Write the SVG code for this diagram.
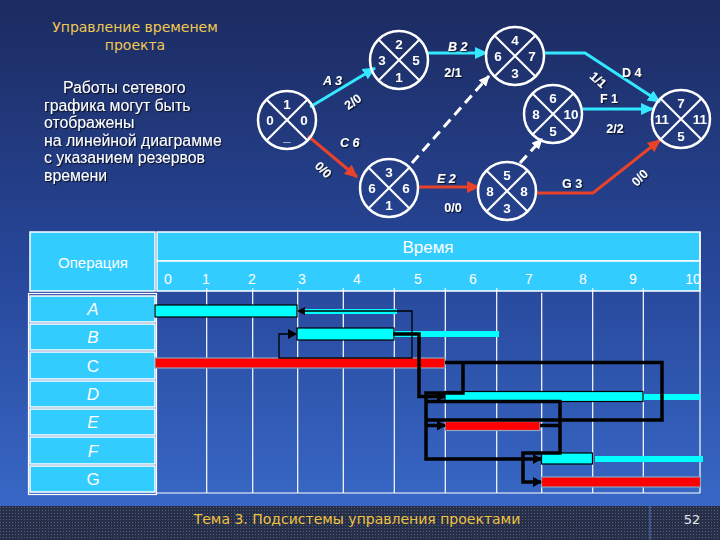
<svg xmlns="http://www.w3.org/2000/svg" width="720" height="540" viewBox="0 0 720 540">
<defs>
<linearGradient id="bg" x1="0" y1="0" x2="0" y2="1">
<stop offset="0" stop-color="#1c2b60"/>
<stop offset="0.5" stop-color="#27479a"/>
<stop offset="1" stop-color="#3a6ccc"/>
</linearGradient>
<pattern id="dots" width="3" height="3" patternUnits="userSpaceOnUse">
<rect width="3" height="3" fill="#262f47"/>
<rect width="1" height="1" fill="#55617e"/>
</pattern>
<filter id="sh" x="-10%" y="-10%" width="130%" height="140%">
<feDropShadow dx="1.2" dy="1.2" stdDeviation="0.3" flood-color="#000" flood-opacity="0.7"/>
</filter>
<marker id="mCyan" markerUnits="userSpaceOnUse" markerWidth="14" markerHeight="12" refX="12" refY="6" orient="auto">
<path d="M0,0 L13,6 L0,12 Z" fill="#33e8ff"/>
</marker>
<marker id="mRed" markerUnits="userSpaceOnUse" markerWidth="14" markerHeight="12" refX="12" refY="6" orient="auto">
<path d="M0,0 L13,6 L0,12 Z" fill="#e8432a"/>
</marker>
<marker id="mWhite" markerUnits="userSpaceOnUse" markerWidth="12" markerHeight="10" refX="10" refY="5" orient="auto">
<path d="M0,0 L11,5 L0,10 Z" fill="#ffffff"/>
</marker>
<marker id="mBlack" markerUnits="userSpaceOnUse" markerWidth="10" markerHeight="10" refX="8" refY="5" orient="auto">
<path d="M0,0 L9,5 L0,10 Z" fill="#000"/>
</marker>
<style>
.node circle{fill:none;stroke:#fff;stroke-width:2.5}
.node line{stroke:#fff;stroke-width:2.2}
.node text{font-family:"Liberation Sans",Arial,sans-serif;font-weight:bold;font-size:13.5px;fill:#fff;text-anchor:middle}
.lbl{font-family:"Liberation Sans",Arial,sans-serif;font-weight:bold;font-size:12.5px;fill:#fff;filter:url(#sh)}
.it{font-style:italic}
.cy{stroke:#33e8ff;stroke-width:3;fill:none}
.rd{stroke:#e8432a;stroke-width:3;fill:none}
.dash{stroke:#fff;stroke-width:3;fill:none;stroke-dasharray:10 6}
.hdr{fill:#33ccff;stroke:#fff;stroke-width:1.5}
.htx{font-family:"Liberation Sans",Arial,sans-serif;fill:#fff;text-anchor:middle}
.grid{stroke:#fff;stroke-width:1.2}
.bc{fill:#00ffff;stroke:#000;stroke-width:1.2}
.br{fill:#ff0000;stroke:#8aa6c0;stroke-width:1.2}
.sl{fill:#00ffff}
.tk{stroke:#000;stroke-width:3.5;fill:none}
.tn{stroke:#000;stroke-width:1.3;fill:none}
.body{font-family:"Liberation Sans",Arial,sans-serif;font-size:15.8px;fill:#fff;filter:url(#sh)}
</style>
</defs>

<rect width="720" height="540" fill="url(#bg)"/>
<rect x="0" y="506" width="720" height="34" fill="url(#dots)"/>
<line x1="650" y1="506" x2="650" y2="540" stroke="#4f7ac8" stroke-width="1"/>

<g id="title">
<text x="135" y="32" font-family="DejaVu Sans,sans-serif" font-size="14" fill="#f0c850" text-anchor="middle">Управление временем</text>
<text x="135" y="50" font-family="DejaVu Sans,sans-serif" font-size="14" fill="#f0c850" text-anchor="middle">проекта</text>
</g>
<g id="body" class="body">
<text x="63" y="93">Работы сетевого</text>
<text x="44" y="110.5">графика могут быть</text>
<text x="44" y="128">отображены</text>
<text x="44" y="145.5">на линейной диаграмме</text>
<text x="44" y="163">с указанием резервов</text>
<text x="44" y="180.5">времени</text>
</g>

<g id="net-connectors">
<line class="cy" x1="310" y1="107" x2="375" y2="68" marker-end="url(#mCyan)"/>
<line class="rd" x1="308" y1="136" x2="357" y2="177" marker-end="url(#mRed)"/>
<line class="cy" x1="428" y1="53" x2="487" y2="53" marker-end="url(#mCyan)"/>
<line class="dash" x1="412" y1="163" x2="489" y2="76" marker-end="url(#mWhite)"/>
<line class="rd" x1="418" y1="187" x2="479" y2="187" marker-end="url(#mRed)"/>
<line class="dash" x1="520" y1="163" x2="542" y2="139" marker-end="url(#mWhite)"/>
<polyline class="cy" points="544,53 585,53 660,102" marker-end="url(#mCyan)"/>
<line class="cy" x1="583" y1="109" x2="653" y2="109" marker-end="url(#mCyan)"/>
<polyline class="rd" points="536,193 593,193 660,140" marker-end="url(#mRed)"/>
</g>
<g id="net-labels" class="lbl">
<text class="it" x="323" y="85">A  3</text>
<text x="353" y="106" transform="rotate(-36 353 102)" text-anchor="middle">2/0</text>
<text class="it" x="340" y="147">C  6</text>
<text x="323" y="174" transform="rotate(45 323 170)" text-anchor="middle">0/0</text>
<text class="it" x="448" y="51">B  2</text>
<text x="453" y="77" text-anchor="middle">2/1</text>
<text class="it" x="437" y="183">E  2</text>
<text x="453" y="212" text-anchor="middle">0/0</text>
<text x="622" y="77">D 4</text>
<text x="598" y="84" transform="rotate(42 598 80)" text-anchor="middle">1/1</text>
<text x="600" y="103">F 1</text>
<text x="615" y="133" text-anchor="middle">2/2</text>
<text x="562" y="188">G 3</text>
<text x="640" y="182" transform="rotate(-45 640 178)" text-anchor="middle">0/0</text>
</g>

<g id="node1" class="node" transform="translate(287,120)">
<circle r="29"/><line x1="-20.5" y1="-20.5" x2="20.5" y2="20.5"/><line x1="20.5" y1="-20.5" x2="-20.5" y2="20.5"/>
<text y="-11">1</text><text x="-17" y="5">0</text><text x="17" y="5">0</text><text y="21">_</text>
</g>
<g id="node2" class="node" transform="translate(399,60)">
<circle r="29"/><line x1="-20.5" y1="-20.5" x2="20.5" y2="20.5"/><line x1="20.5" y1="-20.5" x2="-20.5" y2="20.5"/>
<text y="-11">2</text><text x="-17" y="5">3</text><text x="17" y="5">5</text><text y="22">1</text>
</g>
<g id="node3" class="node" transform="translate(389,188)">
<circle r="29"/><line x1="-20.5" y1="-20.5" x2="20.5" y2="20.5"/><line x1="20.5" y1="-20.5" x2="-20.5" y2="20.5"/>
<text y="-11">3</text><text x="-17" y="5">6</text><text x="17" y="5">6</text><text y="22">1</text>
</g>
<g id="node4" class="node" transform="translate(515,56)">
<circle r="29"/><line x1="-20.5" y1="-20.5" x2="20.5" y2="20.5"/><line x1="20.5" y1="-20.5" x2="-20.5" y2="20.5"/>
<text y="-11">4</text><text x="-17" y="5">6</text><text x="17" y="5">7</text><text y="22">3</text>
</g>
<g id="node5" class="node" transform="translate(553,114)">
<circle r="29"/><line x1="-20.5" y1="-20.5" x2="20.5" y2="20.5"/><line x1="20.5" y1="-20.5" x2="-20.5" y2="20.5"/>
<text y="-11">6</text><text x="-17" y="5">8</text><text x="18" y="5">10</text><text y="22">5</text>
</g>
<g id="node6" class="node" transform="translate(507,191)">
<circle r="29"/><line x1="-20.5" y1="-20.5" x2="20.5" y2="20.5"/><line x1="20.5" y1="-20.5" x2="-20.5" y2="20.5"/>
<text y="-11">5</text><text x="-17" y="5">8</text><text x="17" y="5">8</text><text y="22">3</text>
</g>
<g id="node7" class="node" transform="translate(681,119)">
<circle r="29"/><line x1="-20.5" y1="-20.5" x2="20.5" y2="20.5"/><line x1="20.5" y1="-20.5" x2="-20.5" y2="20.5"/>
<text y="-11">7</text><text x="-19" y="5">11</text><text x="19" y="5">11</text><text y="22">5</text>
</g>

<g id="table-header">
<rect class="hdr" x="30" y="232" width="125" height="59"/>
<text class="htx" x="93" y="268" font-size="15">Операция</text>
<rect class="hdr" x="157" y="232" width="543" height="29"/>
<rect class="hdr" x="157" y="261" width="543" height="30"/>
<text class="htx" x="428" y="253" font-size="17">Время</text>
<g class="htx" font-size="14">
<text x="168" y="284">0</text><text x="206" y="284">1</text><text x="252" y="284">2</text><text x="302" y="284">3</text><text x="357" y="284">4</text><text x="418" y="284">5</text><text x="473" y="284">6</text><text x="529" y="284">7</text><text x="583" y="284">8</text><text x="633" y="284">9</text><text x="693" y="284">10</text>
</g>
</g>
<g id="grid">
<rect x="28.5" y="293.5" width="128" height="201" fill="none" stroke="#fff" stroke-width="1.2"/>
<line class="grid" x1="206.7" y1="288" x2="206.7" y2="493"/>
<line class="grid" x1="252.7" y1="288" x2="252.7" y2="493"/>
<line class="grid" x1="297.7" y1="288" x2="297.7" y2="493"/>
<line class="grid" x1="343.3" y1="288" x2="343.3" y2="493"/>
<line class="grid" x1="394.3" y1="288" x2="394.3" y2="493"/>
<line class="grid" x1="445.3" y1="288" x2="445.3" y2="493"/>
<line class="grid" x1="496.7" y1="288" x2="496.7" y2="493"/>
<line class="grid" x1="541.7" y1="293" x2="541.7" y2="493"/>
<line class="grid" x1="592.7" y1="288" x2="592.7" y2="493"/>
<line class="grid" x1="643.3" y1="288" x2="643.3" y2="493"/>
<line class="grid" x1="700" y1="232" x2="700" y2="493"/>
<line class="grid" x1="157" y1="493" x2="700" y2="493"/>
</g>
<g id="rows">
<rect class="hdr" x="30" y="296" width="125" height="26" stroke="none"/>
<rect class="hdr" x="30" y="324" width="125" height="26" stroke="none"/>
<rect class="hdr" x="30" y="352" width="125" height="27" stroke="none"/>
<rect class="hdr" x="30" y="381" width="125" height="26" stroke="none"/>
<rect class="hdr" x="30" y="409" width="125" height="26" stroke="none"/>
<rect class="hdr" x="30" y="437" width="125" height="27" stroke="none"/>
<rect class="hdr" x="30" y="466" width="125" height="26" stroke="none"/>
<g class="htx" font-size="17">
<text x="93" y="315" font-style="italic">A</text>
<text x="93" y="343" font-style="italic">B</text>
<text x="93" y="371.5">C</text>
<text x="93" y="400" font-style="italic">D</text>
<text x="93" y="428" font-style="italic">E</text>
<text x="93" y="456.5" font-style="italic">F</text>
<text x="93" y="485">G</text>
</g>
</g>
<g id="bars">
<rect class="sl" x="303" y="309" width="94" height="5"/>
<rect class="sl" x="394" y="331" width="105" height="6"/>
<rect class="sl" x="643" y="394" width="57" height="6"/>
<rect class="sl" x="595" y="456" width="108" height="6"/>
<rect class="bc" x="155" y="305" width="142" height="12"/>
<rect class="bc" x="297" y="328" width="97" height="12"/>
<rect class="br" x="155" y="358" width="290" height="10"/>
<rect class="bc" x="445" y="391.5" width="198" height="10"/>
<rect class="br" x="445" y="421.5" width="95" height="9"/>
<rect class="bc" x="541.5" y="453" width="51" height="11"/>
<rect class="br" x="541.5" y="477" width="159" height="10"/>
</g>
<g id="gantt-links">
<polyline class="tn" points="304,311 412,311 412,358 279,358 279,334 296,334" marker-end="url(#mBlack)"/>
<path d="M297,311 L305,307 L305,315 Z" fill="#000"/>
<polyline class="tk" points="393,334 419,334 419,396.5 445,396.5" marker-end="url(#mBlack)"/>
<polyline class="tk" points="445,362.5 662,362.5 662,420 426,420"/>
<polyline class="tk" points="463,362.5 463,393 426,393 426,459 541,459" marker-end="url(#mBlack)"/>
<polyline class="tk" points="426,401.5 560,401.5 560,453 523,453 523,482 541,482" marker-end="url(#mBlack)"/>
<line class="tk" x1="540" y1="425.5" x2="560" y2="425.5"/>
<line class="tk" x1="426" y1="425.5" x2="445" y2="425.5" marker-end="url(#mBlack)"/>
</g>

<g id="footer">
<text x="357" y="524" font-family="DejaVu Sans,sans-serif" font-size="14" fill="#f0c040" text-anchor="middle">Тема 3. Подсистемы управления проектами</text>
<text x="692" y="524" font-family="DejaVu Sans,sans-serif" font-size="13" fill="#e8e8f0" text-anchor="middle">52</text>
</g>
</svg>
